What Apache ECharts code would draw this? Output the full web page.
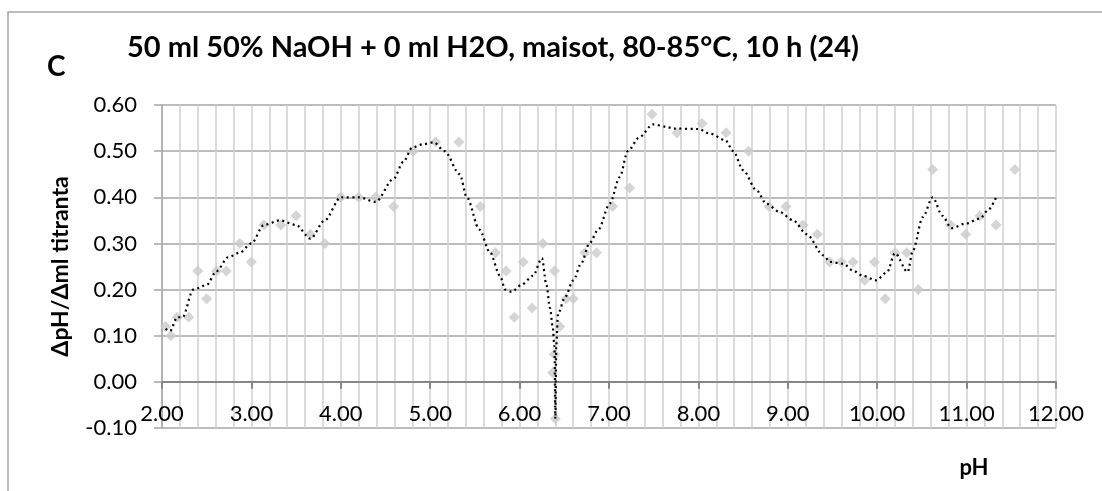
<!DOCTYPE html>
<html>
<head>
<meta charset="utf-8">
<script src="https://cdn.jsdelivr.net/npm/echarts@6/dist/echarts.min.js"></script>
<style>
  html, body { margin: 0; padding: 0; background: #fff; }
  #chart { width: 1102px; height: 491px; }
</style>
</head>
<body>
<div id="chart"></div>
<script>
// measured points (pH, dpH/dml)
var phValues = [2.04, 2.10, 2.17, 2.30, 2.40, 2.50, 2.61, 2.72, 2.87, 3.00,
  3.14, 3.33, 3.50, 3.66, 3.82, 4.00, 4.20, 4.39, 4.59, 4.81,
  5.06, 5.32, 5.56, 5.73, 5.85, 5.94, 6.04, 6.14, 6.26, 6.39,
  6.45, 6.39, 6.37, 6.40, 6.52, 6.60, 6.73, 6.86, 7.04, 7.23,
  7.48, 7.76, 8.04, 8.31, 8.56, 8.79, 8.98, 9.17, 9.33, 9.47,
  9.60, 9.73, 9.86, 9.97, 10.09, 10.20, 10.33, 10.46, 10.62, 10.82,
  10.99, 11.15, 11.33, 11.54];
var slopeValues = [0.12, 0.10, 0.14, 0.14, 0.24, 0.18, 0.24, 0.24, 0.30, 0.26,
  0.34, 0.34, 0.36, 0.32, 0.30, 0.40, 0.40, 0.40, 0.38, 0.50,
  0.52, 0.52, 0.38, 0.28, 0.24, 0.14, 0.26, 0.16, 0.30, 0.24,
  0.12, 0.06, 0.02, -0.08, 0.18, 0.18, 0.28, 0.28, 0.38, 0.42,
  0.58, 0.54, 0.56, 0.54, 0.50, 0.38, 0.38, 0.34, 0.32, 0.26,
  0.26, 0.26, 0.22, 0.26, 0.18, 0.28, 0.28, 0.20, 0.46, 0.34,
  0.32, 0.36, 0.34, 0.46];

// dotted trend line
var trendPh = [2.04, 2.09, 2.17, 2.23, 2.35, 2.50, 2.61, 2.74, 2.87, 3.00,
  3.14, 3.32, 3.50, 3.66, 3.82, 4.00, 4.20, 4.39, 4.59, 4.70,
  4.80, 4.92, 5.04, 5.16, 5.33, 5.41, 5.55, 5.67, 5.78, 5.84,
  5.91, 6.02, 6.15, 6.25, 6.30, 6.34, 6.37, 6.39, 6.40, 6.41,
  6.43, 6.51, 6.60, 6.69, 6.78, 6.88, 7.01, 7.12, 7.21, 7.34,
  7.49, 7.64, 7.72, 8.00, 8.13, 8.30, 8.39, 8.50, 8.65, 8.76,
  8.91, 9.06, 9.21, 9.40, 9.47, 9.62, 9.73, 9.84, 9.99, 10.11,
  10.20, 10.34, 10.40, 10.51, 10.62, 10.73, 10.83, 10.99, 11.15, 11.24,
  11.33];
var trendSlope = [0.115, 0.11, 0.14, 0.14, 0.20, 0.21, 0.24, 0.27, 0.28, 0.30,
  0.34, 0.35, 0.34, 0.31, 0.35, 0.40, 0.40, 0.39, 0.44, 0.477,
  0.508, 0.515, 0.519, 0.50, 0.45, 0.40, 0.33, 0.28, 0.23, 0.20,
  0.195, 0.21, 0.23, 0.268, 0.21, 0.16, 0.12, 0.076, -0.08, 0.08,
  0.148, 0.184, 0.22, 0.257, 0.30, 0.33, 0.387, 0.444, 0.50, 0.53,
  0.558, 0.553, 0.549, 0.548, 0.538, 0.524, 0.50, 0.459, 0.415, 0.386,
  0.368, 0.35, 0.32, 0.274, 0.26, 0.256, 0.241, 0.23, 0.22, 0.238,
  0.279, 0.238, 0.285, 0.357, 0.40, 0.36, 0.333, 0.343, 0.354, 0.372,
  0.40];

var xTicks = [2, 12, 1];
var yTicks = [-0.1, 0.6, 0.1];

var chartTitle = '50 ml 50% NaOH + 0 ml H2O, maisot, 80-85°C, 10 h (24)';
var panelLabel = 'C';
var yName = 'ΔpH/Δml titranta';
var xName = 'pH';

var font = 'Lato, "Open Sans", sans-serif';

var scatterData = phValues.map(function(v, i) { return [v, slopeValues[i]]; });
var trendData = trendPh.map(function(v, i) { return [v, trendSlope[i]]; });

// plot box, the x axis sits on y = 0
var gridTop = 105, gridBottom = 63, chartH = 491;
var plotH = chartH - gridTop - gridBottom;
var zeroShift = plotH * (0 - yTicks[0]) / (yTicks[1] - yTicks[0]);

var chart = echarts.init(document.getElementById('chart'));

var option = {
  animation: false,
  backgroundColor: '#fff',
  textStyle: { fontFamily: font },
  grid: { left: 162, right: 46, top: gridTop, bottom: gridBottom },
  graphic: [
    { type: 'polyline', shape: { points: [[8, 491], [8, 12], [1102, 12]] },
      style: { stroke: '#a6a6a6', lineWidth: 1.5, fill: null } },
    { type: 'text', x: 127, y: 48,
      style: { text: chartTitle, font: 'bold 29px ' + font, fill: '#000', verticalAlign: 'middle' } },
    { type: 'text', x: 47, y: 67,
      style: { text: panelLabel, font: 'bold 28px ' + font, fill: '#000', verticalAlign: 'middle' } },
    { type: 'text', x: 974, y: 468,
      style: { text: xName, font: 'bold 22px ' + font, fill: '#000', align: 'center', verticalAlign: 'middle' } }
  ],
  xAxis: {
    type: 'value',
    min: xTicks[0], max: xTicks[1], interval: xTicks[2],
    offset: -zeroShift,
    axisLine: { onZero: false, lineStyle: { color: '#868686', width: 2 } },
    axisTick: { show: true, length: 7, lineStyle: { color: '#868686', width: 2 } },
    axisLabel: { color: '#000', fontSize: 22, margin: 21,
      formatter: function(v) { return v.toFixed(2); } },
    splitLine: { show: true, lineStyle: { color: '#d0d0d0', width: 1.5 } },
    minorTick: { show: false, splitNumber: 5 },
    minorSplitLine: { show: true, lineStyle: { color: '#d0d0d0', width: 1.5 } }
  },
  yAxis: {
    type: 'value',
    min: yTicks[0], max: yTicks[1], interval: yTicks[2],
    name: yName,
    nameLocation: 'middle',
    nameGap: 90,
    nameTextStyle: { color: '#000', fontSize: 23, fontWeight: 'bold' },
    axisLine: { show: true, onZero: false, lineStyle: { color: '#a6a6a6', width: 1.5 } },
    axisTick: { show: true, length: 8, lineStyle: { color: '#a6a6a6', width: 1.5 } },
    axisLabel: { color: '#000', fontSize: 22, margin: 25,
      formatter: function(v) { return v.toFixed(2); } },
    splitLine: { show: true, lineStyle: { color: '#a6a6a6', width: 1.5 } }
  },
  series: [
    {
      type: 'scatter',
      data: scatterData,
      symbol: 'diamond',
      symbolSize: 11,
      itemStyle: { color: '#cbcbcb' },
      z: 2
    },
    {
      type: 'line',
      data: trendData,
      showSymbol: false,
      smooth: 0.3,
      smoothMonotone: 'x',
      lineStyle: { color: '#000', width: 2.2, type: [2, 3.5] },
      z: 3
    }
  ]
};

chart.setOption(option);
</script>
</body>
</html>
